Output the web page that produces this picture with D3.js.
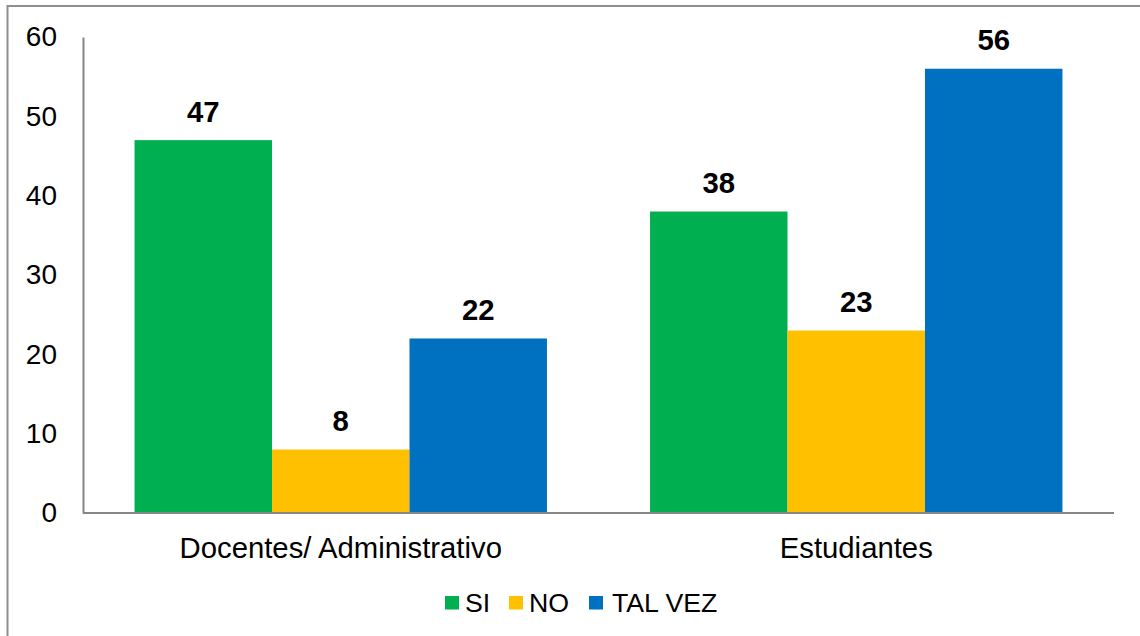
<!DOCTYPE html>
<html>
<head>
<meta charset="utf-8">
<script src="https://cdn.jsdelivr.net/npm/d3@7"></script>
<style>
  html, body { margin: 0; padding: 0; background: #fff; }
  svg { display: block; font-family: Arial, "Liberation Sans", sans-serif; }
</style>
</head>
<body>
<svg id="chart" width="1140" height="636"></svg>
<script>
// Survey answers per group
const categories = ["Docentes/ Administrativo", "Estudiantes"];
const seriesNames = ["SI", "NO", "TAL VEZ"];
const siValues = [47, 38];
const noValues = [8, 23];
const talVezValues = [22, 56];
const yTicks = [0, 10, 20, 30, 40, 50, 60];

const colors = { "SI": "#00B050", "NO": "#FFC000", "TAL VEZ": "#0070C0" };
const seriesValues = { "SI": siValues, "NO": noValues, "TAL VEZ": talVezValues };

const svg = d3.select("#chart");
const axisColor = "#868686";
const fontFamily = "Arial, 'Liberation Sans', sans-serif";

// Outer frame (runs off the right and bottom edges)
svg.append("rect")
  .attr("x", 7.5).attr("y", 6)
  .attr("width", 1300).attr("height", 800)
  .attr("fill", "none")
  .attr("stroke", "#8e8e8e")
  .attr("stroke-width", 2);

const plot = { left: 83, right: 1114, top: 37, bottom: 513 };

const x0 = d3.scaleBand()
  .domain(categories)
  .range([plot.left, plot.right])
  .paddingInner(0.2)
  .paddingOuter(0.1);

const x1 = d3.scaleBand()
  .domain(seriesNames)
  .range([0, x0.bandwidth()]);

const y = d3.scaleLinear()
  .domain([0, 60])
  .range([plot.bottom, plot.top]);

// Y axis: vertical line with labels only
const yAxis = d3.axisLeft(y).tickValues(yTicks).tickSize(0).tickPadding(26);
const gy = svg.append("g")
  .attr("transform", `translate(${plot.left},0)`)
  .call(yAxis);
gy.select(".domain").attr("stroke", axisColor).attr("stroke-width", 2);
gy.selectAll("text")
  .attr("font-size", 28)
  .attr("font-family", fontFamily)
  .attr("fill", "#000");

// Bars
const groups = svg.append("g").selectAll("g")
  .data(categories)
  .join("g")
  .attr("transform", d => `translate(${x0(d)},0)`);

groups.selectAll("rect")
  .data((d, i) => seriesNames.map(s => ({ s, v: seriesValues[s][i] })))
  .join("rect")
  .attr("x", d => x1(d.s))
  .attr("y", d => y(d.v))
  .attr("width", x1.bandwidth())
  .attr("height", d => y(0) - y(d.v))
  .attr("fill", d => colors[d.s]);

// Value labels
groups.selectAll("text.value")
  .data((d, i) => seriesNames.map(s => ({ s, v: seriesValues[s][i] })))
  .join("text")
  .attr("class", "value")
  .attr("x", d => x1(d.s) + x1.bandwidth() / 2)
  .attr("y", d => y(d.v) - 18.5)
  .attr("text-anchor", "middle")
  .attr("font-size", 29.3)
  .attr("font-weight", "bold")
  .attr("fill", "#000")
  .text(d => d.v);

// X axis: baseline with category labels
const xAxis = d3.axisBottom(x0).tickSize(0).tickPadding(0);
const gx = svg.append("g")
  .attr("transform", `translate(0,${plot.bottom})`)
  .call(xAxis);
gx.select(".domain")
  .attr("d", `M${plot.left},0H${plot.right}`)
  .attr("stroke", axisColor)
  .attr("stroke-width", 2);
gx.selectAll("text")
  .attr("font-size", 29.3)
  .attr("font-family", fontFamily)
  .attr("fill", "#000")
  .attr("dy", null)
  .attr("y", 45);

// Legend
const legendItems = [
  { s: "SI", box: 445, text: 465 },
  { s: "NO", box: 509, text: 529 },
  { s: "TAL VEZ", box: 589, text: 612 }
];
const legend = svg.append("g");
legend.selectAll("rect")
  .data(legendItems)
  .join("rect")
  .attr("x", d => d.box)
  .attr("y", 596)
  .attr("width", 14)
  .attr("height", 13.5)
  .attr("fill", d => colors[d.s]);
legend.selectAll("text")
  .data(legendItems)
  .join("text")
  .attr("x", d => d.text)
  .attr("y", 611.5)
  .attr("font-size", 26.7)
  .attr("fill", "#000")
  .text(d => d.s);
</script>
</body>
</html>
